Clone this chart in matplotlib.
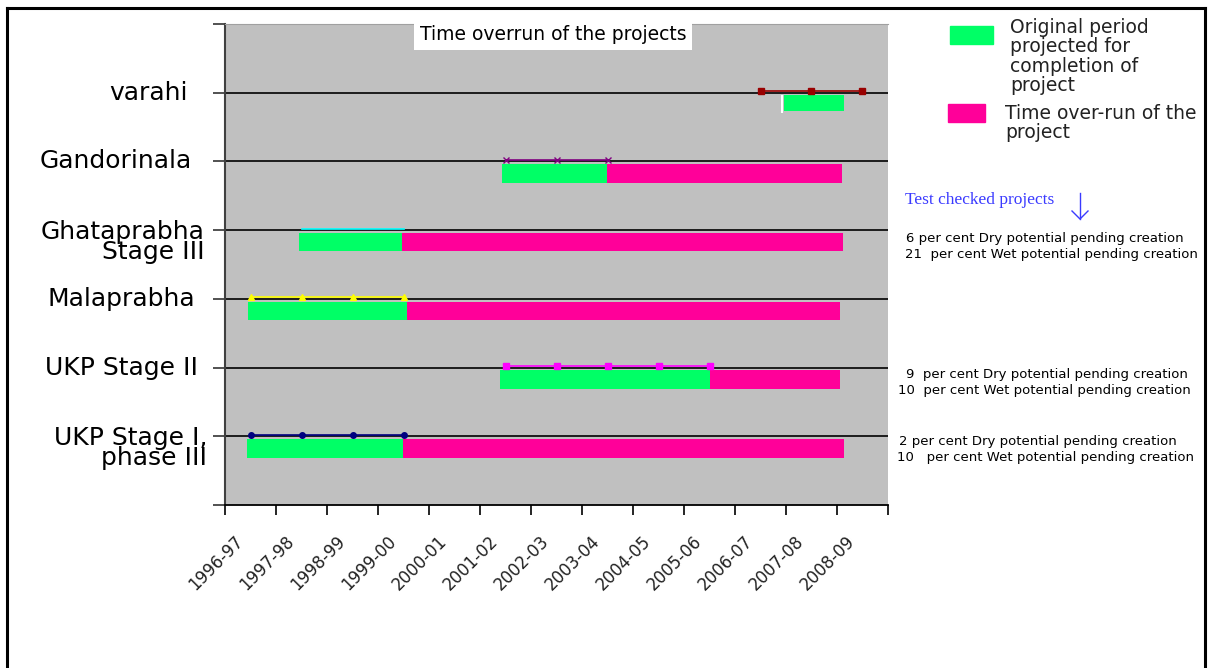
import matplotlib.pyplot as plt
import matplotlib.transforms as mtransforms
from matplotlib.patches import Rectangle
from matplotlib.lines import Line2D

W, H = 1209, 668

years = ['1996-97', '1997-98', '1998-99', '1999-00', '2000-01', '2001-02',
         '2002-03', '2003-04', '2004-05', '2005-06', '2006-07', '2007-08',
         '2008-09']

# bottom to top
projects = ['UKP Stage I,\nphase III', 'UKP Stage II', 'Malaprabha',
            'Ghataprabha\nStage III', 'Gandorinala', 'varahi']
rows = [1, 2, 3, 4, 5, 6]

# periods in year-index units (0 = 1996-97)
orig_start = [-0.07, 4.89, -0.05, 0.95, 4.93, 10.46]
orig_end = [2.99, 9.01, 3.07, 2.97, 6.99, 11.64]
overrun_end = [11.64, 11.56, 11.56, 11.62, 11.60, None]

# year markers sitting on each project's row line
track_years = [[0, 1, 2, 3], [5, 6, 7, 8, 9], [0, 1, 2, 3], [1, 2, 3],
               [5, 6, 7], [10, 11, 12]]
track_colors = ['#000080', '#ff00ff', '#ffff00', '#00ffff', '#800080', '#990000']
track_markers = ['o', 's', '^', '', 'x', 's']

note_rows = [4, 4, 2, 2, 1, 1]
note_dy = [0.12, 0.35, 0.10, 0.33, 0.07, 0.31]
note_x = [906, 905, 906, 898, 899, 897]
notes = ['6 per cent Dry potential pending creation',
         '21  per cent Wet potential pending creation',
         '9  per cent Dry potential pending creation',
         '10  per cent Wet potential pending creation',
         '2 per cent Dry potential pending creation',
         '10   per cent Wet potential pending creation']

# right edge (px) of each project name
label_x = [207, 198, 195, 205, 192, 188]

legend_labels = ['Original period\nprojected for\ncompletion of\nproject',
                 'Time over-run of the\nproject']

green = '#00ff66'
pink = '#ff0099'

fig = plt.figure(figsize=(W / 100, H / 100), dpi=100)
ax = fig.add_axes([225 / W, 1 - 505 / H, 663 / W, 481 / H])
ax.set_facecolor('#c0c0c0')
ax.set_xlim(-0.5, 12.5)
ax.set_ylim(0, 7)

# row lines
ax.hlines(rows, -0.5, 12.5, color='black', lw=1.2, zorder=2)

for r, s, e, o in zip(rows, orig_start, orig_end, overrun_end):
    h = 0.22 if o is None else 0.27
    yc = r - 0.04 - h / 2
    ax.barh(yc, e - s, left=s, height=h, color=green, zorder=3)
    if o is not None:
        ax.barh(yc, o - e, left=e, height=h, color=pink, zorder=3)
    else:
        # thin white stub at the start of the bar
        ax.vlines(s - 0.04, yc - h / 2 - 0.03, yc + h / 2, color='white',
                  lw=1.5, zorder=3)

for r, xs, c, m in zip(rows, track_years, track_colors, track_markers):
    ax.plot(xs, [r + 0.02] * len(xs), color=c, lw=1.2, marker=m or None,
            markersize=4, zorder=4, clip_on=False)

# axes styling
ax.spines['right'].set_visible(False)
ax.spines['top'].set_color('#a0a0a0')
ax.spines['left'].set_color('#404040')
ax.spines['left'].set_linewidth(1.5)
ax.spines['bottom'].set_linewidth(1.3)

ax.set_yticks(range(8))
ax.set_yticklabels([])
ax.tick_params(axis='y', length=9, width=1.2, color='#333333')

ax.set_xticks(range(len(years)))
ax.set_xticklabels(years, rotation=45, ha='right', va='center',
                   rotation_mode='anchor', fontsize=12, color='#222222')
ax.set_xticks([i - 0.5 for i in range(len(years) + 1)], minor=True)
ax.tick_params(axis='x', which='major', length=0, pad=24)
ax.tick_params(axis='x', which='minor', length=7, width=1.2)
shift = mtransforms.ScaledTranslation(-10 / 100, 0, fig.dpi_scale_trans)
for lab in ax.get_xticklabels():
    lab.set_transform(lab.get_transform() + shift)

# project names; two-line names hang below their row line
row_trans = mtransforms.blended_transform_factory(fig.transFigure, ax.transData)
for r, name, lx in zip(rows, projects, label_x):
    two = '\n' in name
    ax.text(lx / W, r - 0.17 if two else r, name, transform=row_trans,
            ha='right', va='center', multialignment='right', fontsize=18,
            linespacing=0.78, clip_on=False)

# chart title box
fig.text(553 / W, 1 - 35 / H, 'Time overrun of the projects', ha='center',
         va='center', fontsize=13.5,
         bbox=dict(boxstyle='square,pad=0.3', fc='white', ec='none'))

# legend
fig.patches.append(Rectangle((950 / W, 1 - 44 / H), 43 / W, 18 / H,
                             transform=fig.transFigure, color=green))
fig.patches.append(Rectangle((948 / W, 1 - 122 / H), 37 / W, 18 / H,
                             transform=fig.transFigure, color=pink))
fig.text(1010 / W, 1 - 18 / H, legend_labels[0], ha='left', va='top',
         fontsize=13.5, linespacing=1.02, color='#222222')
fig.text(1005 / W, 1 - 104 / H, legend_labels[1], ha='left', va='top',
         fontsize=13.5, linespacing=1.02, color='#222222')

# side notes for the test checked projects
fig.text(905 / W, 1 - 200 / H, 'Test checked projects', ha='left',
         va='center', fontsize=12.5, family='Liberation Serif', color='#3a3aff')
fig.add_artist(Line2D([1080 / W, 1080 / W], [1 - 193 / H, 1 - 219 / H],
                      color='#3a3aff', lw=1))
fig.add_artist(Line2D([1072 / W, 1080 / W, 1088 / W],
                      [1 - 211 / H, 1 - 219 / H, 1 - 211 / H],
                      color='#3a3aff', lw=1))
for r, dy, nx, txt in zip(note_rows, note_dy, note_x, notes):
    ax.text(nx / W, r - dy, txt, transform=row_trans, ha='left',
            va='center', fontsize=9.5, clip_on=False)

# page frame
frame = dict(color='black', lw=2.2)
fig.add_artist(Line2D([7 / W, 7 / W], [0, 1 - 8 / H], **frame))
fig.add_artist(Line2D([1205 / W, 1205 / W], [0, 1 - 8 / H], **frame))
fig.add_artist(Line2D([7 / W, 1205 / W], [1 - 8 / H, 1 - 8 / H], **frame))

fig.savefig('out.png', dpi=100)
